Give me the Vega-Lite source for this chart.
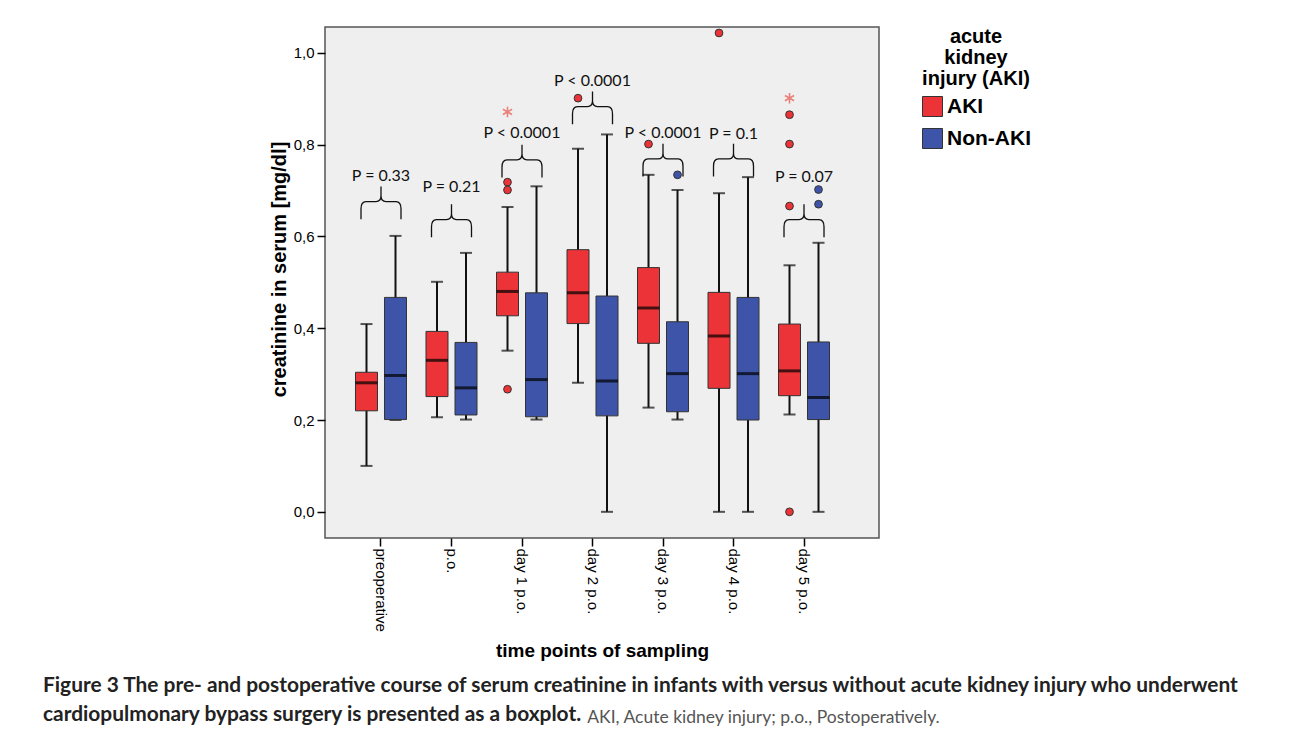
{
  "$schema": "https://vega.github.io/schema/vega-lite/v6.json",
  "padding": {"left": 42, "top": 26, "right": 5, "bottom": 5},
  "background": "white",
  "datasets": {
    "boxes": [
      {"time": "preoperative", "group": "AKI", "lower": 0.10, "q1": 0.220, "median": 0.281, "q3": 0.304, "upper": 0.409},
      {"time": "preoperative", "group": "Non-AKI", "lower": 0.200, "q1": 0.201, "median": 0.297, "q3": 0.467, "upper": 0.601},
      {"time": "p.o.", "group": "AKI", "lower": 0.206, "q1": 0.251, "median": 0.330, "q3": 0.393, "upper": 0.501},
      {"time": "p.o.", "group": "Non-AKI", "lower": 0.201, "q1": 0.211, "median": 0.270, "q3": 0.369, "upper": 0.564},
      {"time": "day 1 p.o.", "group": "AKI", "lower": 0.351, "q1": 0.427, "median": 0.480, "q3": 0.522, "upper": 0.664},
      {"time": "day 1 p.o.", "group": "Non-AKI", "lower": 0.201, "q1": 0.207, "median": 0.288, "q3": 0.477, "upper": 0.709},
      {"time": "day 2 p.o.", "group": "AKI", "lower": 0.281, "q1": 0.410, "median": 0.477, "q3": 0.571, "upper": 0.791},
      {"time": "day 2 p.o.", "group": "Non-AKI", "lower": 0.0, "q1": 0.209, "median": 0.285, "q3": 0.470, "upper": 0.822},
      {"time": "day 3 p.o.", "group": "AKI", "lower": 0.227, "q1": 0.367, "median": 0.444, "q3": 0.532, "upper": 0.734},
      {"time": "day 3 p.o.", "group": "Non-AKI", "lower": 0.201, "q1": 0.218, "median": 0.301, "q3": 0.414, "upper": 0.701},
      {"time": "day 4 p.o.", "group": "AKI", "lower": 0.0, "q1": 0.269, "median": 0.383, "q3": 0.478, "upper": 0.694},
      {"time": "day 4 p.o.", "group": "Non-AKI", "lower": 0.0, "q1": 0.200, "median": 0.301, "q3": 0.467, "upper": 0.729},
      {"time": "day 5 p.o.", "group": "AKI", "lower": 0.212, "q1": 0.253, "median": 0.307, "q3": 0.409, "upper": 0.537},
      {"time": "day 5 p.o.", "group": "Non-AKI", "lower": 0.0, "q1": 0.201, "median": 0.249, "q3": 0.370, "upper": 0.586}
    ],
    "outliers": [
      {"time": "day 1 p.o.", "group": "AKI", "value": 0.718, "kind": "outlier"},
      {"time": "day 1 p.o.", "group": "AKI", "value": 0.701, "kind": "outlier"},
      {"time": "day 1 p.o.", "group": "AKI", "value": 0.267, "kind": "outlier"},
      {"time": "day 1 p.o.", "group": "AKI", "value": 0.871, "kind": "extreme"},
      {"time": "day 2 p.o.", "group": "AKI", "value": 0.901, "kind": "outlier"},
      {"time": "day 3 p.o.", "group": "AKI", "value": 0.801, "kind": "outlier"},
      {"time": "day 3 p.o.", "group": "Non-AKI", "value": 0.734, "kind": "outlier"},
      {"time": "day 4 p.o.", "group": "AKI", "value": 1.043, "kind": "outlier"},
      {"time": "day 5 p.o.", "group": "AKI", "value": 0.865, "kind": "outlier"},
      {"time": "day 5 p.o.", "group": "AKI", "value": 0.801, "kind": "outlier"},
      {"time": "day 5 p.o.", "group": "AKI", "value": 0.666, "kind": "outlier"},
      {"time": "day 5 p.o.", "group": "AKI", "value": 0.0, "kind": "outlier"},
      {"time": "day 5 p.o.", "group": "AKI", "value": 0.901, "kind": "extreme"},
      {"time": "day 5 p.o.", "group": "Non-AKI", "value": 0.702, "kind": "outlier"},
      {"time": "day 5 p.o.", "group": "Non-AKI", "value": 0.670, "kind": "outlier"}
    ],
    "pvals": [
      {"time": "preoperative", "label": "P = 0.33", "labelPos": 0.732, "bracePos": 0.673},
      {"time": "p.o.", "label": "P = 0.21", "labelPos": 0.708, "bracePos": 0.634},
      {"time": "day 1 p.o.", "label": "P < 0.0001", "labelPos": 0.825, "bracePos": 0.764},
      {"time": "day 2 p.o.", "label": "P < 0.0001", "labelPos": 0.938, "bracePos": 0.88},
      {"time": "day 3 p.o.", "label": "P < 0.0001", "labelPos": 0.826, "bracePos": 0.766},
      {"time": "day 4 p.o.", "label": "P = 0.1", "labelPos": 0.823, "bracePos": 0.766},
      {"time": "day 5 p.o.", "label": "P = 0.07", "labelPos": 0.729, "bracePos": 0.634}
    ]
  },
  "title": {
    "text": "AKI, Acute kidney injury; p.o., Postoperatively.",
    "orient": "bottom",
    "anchor": "start",
    "dx": 545,
    "offset": -17,
    "font": "Lato",
    "fontSize": 17.5,
    "fontWeight": "normal",
    "color": "#555555"
  },
  "vconcat": [
    {
      "width": 554,
      "height": 511,
      "title": {
        "text": [
          "Figure 3 The pre- and postoperative course of serum creatinine in infants with versus without acute kidney injury who underwent",
          "cardiopulmonary bypass surgery is presented as a boxplot."
        ],
        "orient": "bottom",
        "anchor": "start",
        "frame": "group",
        "dx": -282,
        "offset": 15,
        "font": "Lato",
        "fontSize": 20.9,
        "fontWeight": "bold",
        "lineHeight": 29,
        "color": "#222222"
      },
      "encoding": {
        "x": {
          "field": "time",
          "type": "nominal",
          "sort": ["preoperative", "p.o.", "day 1 p.o.", "day 2 p.o.", "day 3 p.o.", "day 4 p.o.", "day 5 p.o."],
          "scale": {"paddingInner": 0, "paddingOuter": 0.429, "align": 0.343},
          "axis": {
            "title": "time points of sampling",
            "labelAngle": 90,
            "labelFont": "Liberation Sans",
            "labelFontSize": 15,
            "labelPadding": 2,
            "tickSize": 8,
            "tickWidth": 1.5,
            "titleFont": "Liberation Sans",
            "titleFontSize": 19,
            "titleFontWeight": "bold",
            "titlePadding": 10
          }
        }
      },
      "layer": [
        {
          "data": {"name": "boxes"},
          "mark": {"type": "rule", "color": "#111111", "strokeWidth": 2},
          "encoding": {
            "xOffset": {"field": "group", "type": "nominal", "sort": ["AKI", "Non-AKI"], "scale": {"paddingInner": 0, "paddingOuter": 0.2155}},
            "y": {
              "field": "lower",
              "type": "quantitative",
              "scale": {"domain": [-0.057, 1.056], "nice": false, "zero": false},
              "axis": {
                "title": "creatinine in serum [mg/dl]",
                "values": [0, 0.2, 0.4, 0.6, 0.8, 1.0],
                "labelExpr": "replace(format(datum.value, '.1f'), '.', ',')",
                "labelFont": "Liberation Sans",
                "labelFontSize": 15,
                "labelPadding": 3,
                "tickSize": 8,
                "tickWidth": 1.5,
                "titleFont": "Liberation Sans",
                "titleFontSize": 20,
                "titleFontWeight": "bold",
                "titlePadding": 4,
                "titleY": 242
              }
            },
            "y2": {"field": "upper"}
          }
        },
        {
          "data": {"name": "boxes"},
          "mark": {"type": "tick", "color": "#111111", "size": 12, "thickness": 2},
          "encoding": {
            "xOffset": {"field": "group", "type": "nominal", "sort": ["AKI", "Non-AKI"]},
            "y": {"field": "lower", "type": "quantitative"}
          }
        },
        {
          "data": {"name": "boxes"},
          "mark": {"type": "tick", "color": "#111111", "size": 12, "thickness": 2},
          "encoding": {
            "xOffset": {"field": "group", "type": "nominal", "sort": ["AKI", "Non-AKI"]},
            "y": {"field": "upper", "type": "quantitative"}
          }
        },
        {
          "data": {"name": "boxes"},
          "mark": {"type": "bar", "size": 22, "stroke": "#333333", "strokeWidth": 1},
          "encoding": {
            "xOffset": {"field": "group", "type": "nominal", "sort": ["AKI", "Non-AKI"]},
            "y": {"field": "q1", "type": "quantitative"},
            "y2": {"field": "q3"},
            "fill": {
              "field": "group",
              "type": "nominal",
              "scale": {"domain": ["AKI", "Non-AKI"], "range": ["#EC3438", "#3E54A9"]},
              "legend": {
                "title": ["acute", "kidney", "injury (AKI)"],
                "orient": "right",
                "offset": 43,
                "padding": 0,
                "titleFont": "Liberation Sans",
                "titleFontSize": 20,
                "titleFontWeight": "bold",
                "titleColor": "#000000",
                "titleAlign": "center",
                "titleAnchor": "middle",
                "titleLineHeight": 21,
                "titlePadding": 7,
                "labelFont": "Liberation Sans",
                "labelFontSize": 21,
                "labelFontWeight": "bold",
                "labelColor": "#000000",
                "labelOffset": 4,
                "symbolType": "square",
                "symbolSize": 400,
                "symbolStrokeColor": "#333333",
                "symbolStrokeWidth": 1,
                "rowPadding": 7
              }
            }
          }
        },
        {
          "data": {"name": "boxes"},
          "mark": {"type": "tick", "color": "#000000", "size": 22, "thickness": 3},
          "encoding": {
            "xOffset": {"field": "group", "type": "nominal", "sort": ["AKI", "Non-AKI"]},
            "y": {"field": "median", "type": "quantitative"}
          }
        },
        {
          "data": {"name": "outliers"},
          "transform": [{"filter": "datum.kind === 'outlier'"}],
          "mark": {"type": "point", "shape": "circle", "filled": true, "opacity": 1, "size": 60, "stroke": "#333333", "strokeWidth": 1},
          "encoding": {
            "xOffset": {"field": "group", "type": "nominal", "sort": ["AKI", "Non-AKI"]},
            "y": {"field": "value", "type": "quantitative"},
            "fill": {"field": "group", "type": "nominal"}
          }
        },
        {
          "data": {"name": "outliers"},
          "transform": [{"filter": "datum.kind === 'extreme'"}],
          "mark": {"type": "point", "shape": "M0,-1L0,1M-0.87,-0.5L0.87,0.5M-0.87,0.5L0.87,-0.5", "filled": false, "opacity": 1, "size": 110, "stroke": "#E9807A", "strokeWidth": 1.6},
          "encoding": {
            "xOffset": {"field": "group", "type": "nominal", "sort": ["AKI", "Non-AKI"]},
            "y": {"field": "value", "type": "quantitative"}
          }
        },
        {
          "data": {"name": "pvals"},
          "mark": {"type": "point", "shape": "M-1,0.82L-1,0.3Q-1,-0.06,-0.75,-0.06L-0.25,-0.06Q0,-0.06,0,-0.35L0,-0.82M0,-0.35Q0,-0.06,0.25,-0.06L0.75,-0.06Q1,-0.06,1,0.3L1,0.82", "filled": false, "opacity": 1, "size": 1600, "stroke": "#111111", "strokeWidth": 1.3},
          "encoding": {
            "y": {"field": "bracePos", "type": "quantitative"}
          }
        },
        {
          "data": {"name": "pvals"},
          "mark": {"type": "text", "font": "Lato", "fontSize": 16, "color": "#111111", "baseline": "middle", "align": "center"},
          "encoding": {
            "y": {"field": "labelPos", "type": "quantitative"},
            "text": {"field": "label"}
          }
        }
      ]
    }
  ],
  "resolve": {"scale": {"fill": "independent"}, "legend": {"fill": "independent"}},
  "config": {
    "view": {"fill": "#EFEFEF", "stroke": "#555555", "strokeWidth": 1.5},
    "axis": {"grid": false, "domain": false, "tickColor": "#000000", "labelColor": "#000000", "titleColor": "#000000"}
  }
}
